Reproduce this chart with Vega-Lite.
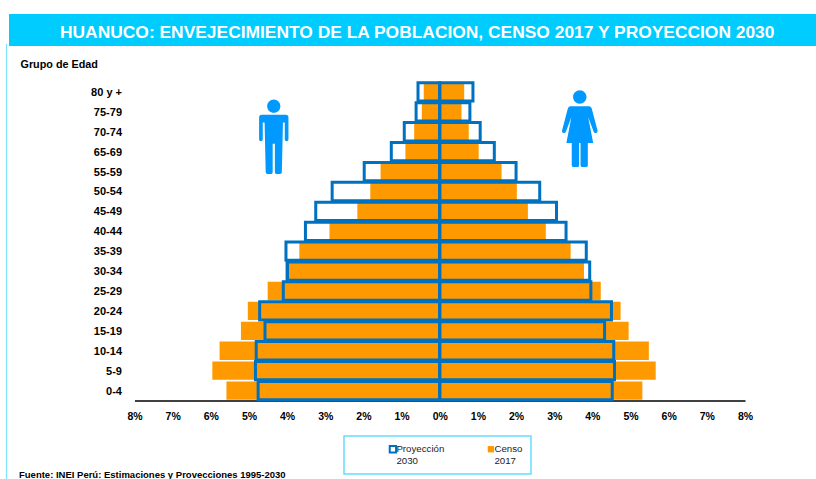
{
"$schema":"https://vega.github.io/schema/vega-lite/v6.json",
"width":610.5,"height":318.5,
"autosize":{"type":"none"},
"padding":{"left":134.5,"top":82,"right":71,"bottom":78.5},
"background":"white",
"config":{"view":{"stroke":null},"font":"Liberation Sans","legend":{"strokeWidth":1.5},"axisX":{"labelOverlap":false}},
"title":{"text":"HUANUCO: ENVEJECIMIENTO DE LA POBLACION,  CENSO 2017 Y PROYECCION 2030","color":"white","font":"Liberation Sans","fontSize":17.4,"fontWeight":"bold","anchor":"start","frame":"group","orient":"top","baseline":"alphabetic","offset":0,"dx":-74.5,"dy":41},
"data":{"values":[
{"grupo":"80 y +","sexo":"Hombres","serie":"Censo 2017","pct":-0.42},
{"grupo":"75-79","sexo":"Hombres","serie":"Censo 2017","pct":-0.47},
{"grupo":"70-74","sexo":"Hombres","serie":"Censo 2017","pct":-0.67},
{"grupo":"65-69","sexo":"Hombres","serie":"Censo 2017","pct":-0.90},
{"grupo":"55-59","sexo":"Hombres","serie":"Censo 2017","pct":-1.55},
{"grupo":"50-54","sexo":"Hombres","serie":"Censo 2017","pct":-1.82},
{"grupo":"45-49","sexo":"Hombres","serie":"Censo 2017","pct":-2.16},
{"grupo":"40-44","sexo":"Hombres","serie":"Censo 2017","pct":-2.89},
{"grupo":"35-39","sexo":"Hombres","serie":"Censo 2017","pct":-3.68},
{"grupo":"30-34","sexo":"Hombres","serie":"Censo 2017","pct":-4.05},
{"grupo":"25-29","sexo":"Hombres","serie":"Censo 2017","pct":-4.51},
{"grupo":"20-24","sexo":"Hombres","serie":"Censo 2017","pct":-5.03},
{"grupo":"15-19","sexo":"Hombres","serie":"Censo 2017","pct":-5.21},
{"grupo":"10-14","sexo":"Hombres","serie":"Censo 2017","pct":-5.77},
{"grupo":"5-9","sexo":"Hombres","serie":"Censo 2017","pct":-5.96},
{"grupo":"0-4","sexo":"Hombres","serie":"Censo 2017","pct":-5.59},
{"grupo":"80 y +","sexo":"Mujeres","serie":"Censo 2017","pct":0.64},
{"grupo":"75-79","sexo":"Mujeres","serie":"Censo 2017","pct":0.57},
{"grupo":"70-74","sexo":"Mujeres","serie":"Censo 2017","pct":0.76},
{"grupo":"65-69","sexo":"Mujeres","serie":"Censo 2017","pct":1.02},
{"grupo":"55-59","sexo":"Mujeres","serie":"Censo 2017","pct":1.62},
{"grupo":"50-54","sexo":"Mujeres","serie":"Censo 2017","pct":2.02},
{"grupo":"45-49","sexo":"Mujeres","serie":"Censo 2017","pct":2.31},
{"grupo":"40-44","sexo":"Mujeres","serie":"Censo 2017","pct":2.78},
{"grupo":"35-39","sexo":"Mujeres","serie":"Censo 2017","pct":3.43},
{"grupo":"30-34","sexo":"Mujeres","serie":"Censo 2017","pct":3.78},
{"grupo":"25-29","sexo":"Mujeres","serie":"Censo 2017","pct":4.22},
{"grupo":"20-24","sexo":"Mujeres","serie":"Censo 2017","pct":4.74},
{"grupo":"15-19","sexo":"Mujeres","serie":"Censo 2017","pct":4.95},
{"grupo":"10-14","sexo":"Mujeres","serie":"Censo 2017","pct":5.48},
{"grupo":"5-9","sexo":"Mujeres","serie":"Censo 2017","pct":5.66},
{"grupo":"0-4","sexo":"Mujeres","serie":"Censo 2017","pct":5.31},
{"grupo":"80 y +","sexo":"Hombres","serie":"Proyección 2030","pct":-0.57},
{"grupo":"75-79","sexo":"Hombres","serie":"Proyección 2030","pct":-0.62},
{"grupo":"70-74","sexo":"Hombres","serie":"Proyección 2030","pct":-0.93},
{"grupo":"65-69","sexo":"Hombres","serie":"Proyección 2030","pct":-1.27},
{"grupo":"55-59","sexo":"Hombres","serie":"Proyección 2030","pct":-1.98},
{"grupo":"50-54","sexo":"Hombres","serie":"Proyección 2030","pct":-2.82},
{"grupo":"45-49","sexo":"Hombres","serie":"Proyección 2030","pct":-3.25},
{"grupo":"40-44","sexo":"Hombres","serie":"Proyección 2030","pct":-3.52},
{"grupo":"35-39","sexo":"Hombres","serie":"Proyección 2030","pct":-4.03},
{"grupo":"30-34","sexo":"Hombres","serie":"Proyección 2030","pct":-3.99},
{"grupo":"25-29","sexo":"Hombres","serie":"Proyección 2030","pct":-4.10},
{"grupo":"20-24","sexo":"Hombres","serie":"Proyección 2030","pct":-4.72},
{"grupo":"15-19","sexo":"Hombres","serie":"Proyección 2030","pct":-4.58},
{"grupo":"10-14","sexo":"Hombres","serie":"Proyección 2030","pct":-4.81},
{"grupo":"5-9","sexo":"Hombres","serie":"Proyección 2030","pct":-4.83},
{"grupo":"0-4","sexo":"Hombres","serie":"Proyección 2030","pct":-4.76},
{"grupo":"80 y +","sexo":"Mujeres","serie":"Proyección 2030","pct":0.87},
{"grupo":"75-79","sexo":"Mujeres","serie":"Proyección 2030","pct":0.79},
{"grupo":"70-74","sexo":"Mujeres","serie":"Proyección 2030","pct":1.06},
{"grupo":"65-69","sexo":"Mujeres","serie":"Proyección 2030","pct":1.43},
{"grupo":"55-59","sexo":"Mujeres","serie":"Proyección 2030","pct":2.00},
{"grupo":"50-54","sexo":"Mujeres","serie":"Proyección 2030","pct":2.62},
{"grupo":"45-49","sexo":"Mujeres","serie":"Proyección 2030","pct":3.06},
{"grupo":"40-44","sexo":"Mujeres","serie":"Proyección 2030","pct":3.31},
{"grupo":"35-39","sexo":"Mujeres","serie":"Proyección 2030","pct":3.84},
{"grupo":"30-34","sexo":"Mujeres","serie":"Proyección 2030","pct":3.93},
{"grupo":"25-29","sexo":"Mujeres","serie":"Proyección 2030","pct":3.96},
{"grupo":"20-24","sexo":"Mujeres","serie":"Proyección 2030","pct":4.50},
{"grupo":"15-19","sexo":"Mujeres","serie":"Proyección 2030","pct":4.32},
{"grupo":"10-14","sexo":"Mujeres","serie":"Proyección 2030","pct":4.56},
{"grupo":"5-9","sexo":"Mujeres","serie":"Proyección 2030","pct":4.58},
{"grupo":"0-4","sexo":"Mujeres","serie":"Proyección 2030","pct":4.52}
]},
"layer":[
{"data":{"values":[{"elemento":"banda"}]},
 "mark":{"type":"rect","fill":"#00CCFF","clip":false},
 "encoding":{"x":{"value":-125.5},"x2":{"value":681.5},"y":{"value":-68},"y2":{"value":-36}}},
{"data":{"values":[{"elemento":"marco"}]},
 "mark":{"type":"rule","stroke":"#7FE3FF","strokeWidth":1.2,"clip":false},
 "encoding":{"x":{"value":-128},"y":{"value":-38},"y2":{"value":397}}},
{"mark":{"type":"bar","strokeWidth":3},
 "encoding":{
  "x":{"field":"pct","type":"quantitative","stack":null,"scale":{"domain":[-8,8],"nice":false,"zero":false},
   "axis":{"values":[-8,-7,-6,-5,-4,-3,-2,-1,0,1,2,3,4,5,6,7,8],"tickCount":17,"labelExpr":"abs(datum.value)+'%'","labelOverlap":false,"labelFlush":false,"labelBound":false,"labelSeparation":0,"grid":false,"ticks":false,"domain":true,"domainColor":"black","domainWidth":1.5,"labelFontSize":10.5,"labelFontWeight":"bold","labelColor":"black","labelPadding":11,"labelFont":"Liberation Sans","title":"Fuente: INEI  Perú: Estimaciones y Provecciones 1995-2030","titleFontSize":9.5,"titleFontWeight":"bold","titleColor":"black","titleFont":"Liberation Sans","titleAlign":"left","titleBaseline":"alphabetic","titleX":-116,"titleY":77,"titleAnchor":"start"}},
  "y":{"field":"grupo","type":"nominal","scale":{"domain":["80 y +","75-79","70-74","65-69","55-59","50-54","45-49","40-44","35-39","30-34","25-29","20-24","15-19","10-14","5-9","0-4"],"paddingInner":0.08,"paddingOuter":0.04},
   "axis":{"domain":false,"ticks":false,"labelFontSize":11,"labelFontWeight":"bold","labelColor":"black","labelPadding":13,"labelOffset":1,"labelFont":"Liberation Sans","title":"Grupo de Edad","titleAngle":0,"titleAlign":"left","titleBaseline":"alphabetic","titleFontSize":10.8,"titleFontWeight":"bold","titleColor":"black","titleFont":"Liberation Sans","titleX":-114.5,"titleY":-15}},
  "fill":{"field":"serie","type":"nominal","scale":{"domain":["Proyección 2030","Censo 2017"],"range":["transparent","#FF9900"]},
   "legend":{"orient":"none","legendX":209.5,"legendY":354,"direction":"horizontal","columns":2,"gridAlign":"each","title":null,"strokeColor":"#66DDFF","padding":8,"symbolType":"M10.4,-1H12.4V1H10.4Z","symbolSize":40,"symbolStrokeWidth":2,"labelExpr":"split(datum.label,' ')","labelFontSize":9.7,"labelColor":"#222222","labelFont":"Liberation Sans","labelBaseline":"middle","columnPadding":5,"labelOffset":34.7}},
  "stroke":{"field":"serie","type":"nominal","scale":{"domain":["Proyección 2030","Censo 2017"],"range":["#0070C0","transparent"]},
   "legend":{"orient":"none","legendX":209.5,"legendY":354,"direction":"horizontal","columns":2,"gridAlign":"each","title":null,"strokeColor":"#66DDFF","padding":8,"symbolType":"M10.4,-1H12.4V1H10.4Z","symbolSize":40,"symbolStrokeWidth":2,"labelExpr":"split(datum.label,' ')","labelFontSize":9.7,"labelColor":"#222222","labelFont":"Liberation Sans","labelBaseline":"middle","columnPadding":5,"labelOffset":34.7}}
 }},
{"data":{"values":[{"sexo":"Hombres"}]},
 "mark":{"type":"point","filled":true,"fill":"#0099FF","stroke":null,"opacity":1,"size":5387,"clip":false,"shape":"M-0.18,-0.845A0.18,0.18 0 1,1 0.18,-0.845A0.18,0.18 0 1,1 -0.18,-0.845ZM-0.33,-0.61L0.33,-0.61Q0.4,-0.61 0.4,-0.54L0.4,0.06Q0.4,0.11 0.35,0.11Q0.3,0.11 0.3,0.06L0.3,-0.4L0.25,-0.4L0.22,0.95Q0.22,1 0.17,1L0.07,1Q0.03,1 0.03,0.95L0.03,0.18L-0.03,0.18L-0.03,0.95Q-0.03,1 -0.07,1L-0.17,1Q-0.22,1 -0.22,0.95L-0.25,-0.4L-0.3,-0.4L-0.3,0.06Q-0.3,0.11 -0.35,0.11Q-0.4,0.11 -0.4,0.06L-0.4,-0.54Q-0.4,-0.61 -0.33,-0.61Z"},
 "encoding":{"x":{"datum":-4.35},"y":{"datum":"70-74"},"yOffset":{"value":14.6}}},
{"data":{"values":[{"sexo":"Mujeres"}]},
 "mark":{"type":"point","filled":true,"fill":"#0099FF","stroke":null,"opacity":1,"size":5868,"clip":false,"shape":"M-0.175,-0.83A0.175,0.175 0 1,1 0.175,-0.83A0.175,0.175 0 1,1 -0.175,-0.83ZM-0.24,-0.59L0.24,-0.59Q0.29,-0.59 0.31,-0.54L0.46,0.03Q0.48,0.1 0.42,0.11Q0.38,0.12 0.36,0.07L0.22,-0.3L0.35,0.37L0.21,0.37L0.21,0.95Q0.21,1 0.16,1L0.06,1Q0.02,1 0.02,0.95L0.02,0.37L-0.02,0.37L-0.02,0.95Q-0.02,1 -0.06,1L-0.16,1Q-0.21,1 -0.21,0.95L-0.21,0.37L-0.35,0.37L-0.22,-0.3L-0.36,0.07Q-0.38,0.12 -0.42,0.11Q-0.48,0.1 -0.46,0.03L-0.31,-0.54Q-0.29,-0.59 -0.24,-0.59Z"},
 "encoding":{"x":{"datum":3.67},"y":{"datum":"70-74"},"yOffset":{"value":6.2}}}
]
}
